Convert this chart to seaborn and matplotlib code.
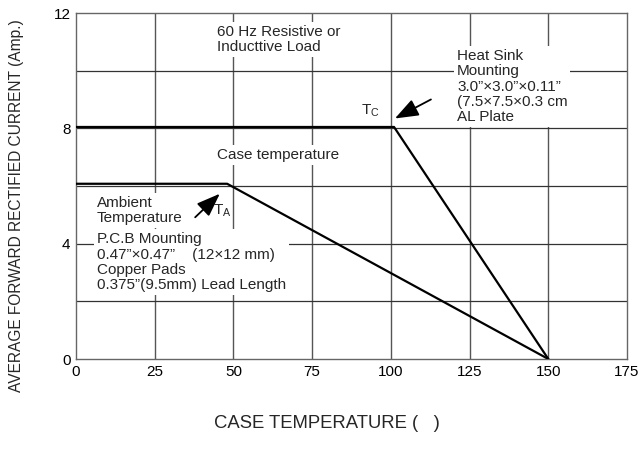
import numpy as np
import pandas as pd
import matplotlib
matplotlib.use("Agg")
import matplotlib.pyplot as plt
import seaborn as sns

# derating curves
case_temp = [0, 101, 150]
case_current = [8.05, 8.05, 0]
ambient_temp = [0, 48, 150]
ambient_current = [6.08, 6.08, 0]

x_ticks = [0, 25, 50, 75, 100, 125, 150, 175]
y_ticks = [0, 4, 8, 12]
y_grid = [0, 2, 4, 6, 8, 10, 12]

sns.set_theme(style="white")
plt.rcParams['font.family'] = ['Liberation Sans', 'DejaVu Sans']

fig = plt.figure(figsize=(6.41, 4.53), dpi=100)
ax = fig.add_axes([0.1186, 0.2075, 0.8596, 0.7635])

df_case = pd.DataFrame({"temp": case_temp, "current": case_current})
df_amb = pd.DataFrame({"temp": ambient_temp, "current": ambient_current})
sns.lineplot(data=df_case, x="temp", y="current", color="black", lw=1.6, ax=ax, zorder=3)
sns.lineplot(data=df_amb, x="temp", y="current", color="black", lw=1.6, ax=ax, zorder=3)

ax.set_xlim(0, 175)
ax.set_ylim(0, 12)
ax.set_xticks(x_ticks)
ax.set_yticks(y_grid, minor=False)
ax.set_yticklabels([str(v) if v in y_ticks else "" for v in y_grid])
ax.tick_params(axis="both", length=0, labelsize=11, colors="black", pad=4)
for x in x_ticks[1:-1]:
    ax.axvline(x, color="#555555", lw=1.0, zorder=1)
for y in y_grid[1:-1]:
    ax.axhline(y, color="#333333", lw=0.9, zorder=1)
for s in ax.spines.values():
    s.set_color("#666666")
    s.set_linewidth(1.0)
ax.set_xlabel("")
ax.set_ylabel("")

# axis titles sit off-centre in the reference
fig.text(0.510, 0.066, "CASE TEMPERATURE (   )", fontsize=13.3, ha="center", va="center")
fig.text(0.025, 0.547, "AVERAGE FORWARD RECTIFIED CURRENT (Amp.)", fontsize=11.2,
         ha="center", va="center", rotation=90)

box = dict(facecolor="white", edgecolor="none", pad=2)
fs = 11
ls = 1.12
ax.text(44.8, 11.6, "60 Hz Resistive or\nInducttive Load", fontsize=fs, va="top",
        ha="left", bbox=box, zorder=4, linespacing=ls)
ax.text(44.8, 7.07, "Case temperature", fontsize=fs, va="center", ha="left",
        bbox=box, zorder=4)
ax.text(121, 10.75, "Heat Sink\nMounting\n3.0\u201d\u00d73.0\u201d\u00d70.11\u201d\n(7.5\u00d77.5\u00d70.3 cm\nAL Plate",
        fontsize=fs, va="top", ha="left", bbox=box, zorder=4, linespacing=ls)
ax.text(90.5, 8.62, "T$_\\mathregular{C}$", fontsize=fs, va="center", ha="left",
        bbox=box, zorder=4)
ax.annotate("", xy=(100.5, 8.3), xytext=(113.5, 9.05),
            arrowprops=dict(arrowstyle="-|>,head_width=0.45,head_length=1.2",
                            color="black", lw=1.3), zorder=5)
ax.text(6.7, 5.65, "Ambient\nTemperature", fontsize=fs, va="top", ha="left",
        bbox=box, zorder=4, linespacing=ls)
ax.text(43.5, 5.15, "T$_\\mathregular{A}$", fontsize=fs, va="center", ha="left",
        zorder=4)
ax.annotate("", xy=(46.3, 5.8), xytext=(37.2, 4.85),
            arrowprops=dict(arrowstyle="-|>,head_width=0.45,head_length=1.2",
                            color="black", lw=1.3), zorder=5)
ax.text(6.7, 4.4, "P.C.B Mounting\n0.47\u201d\u00d70.47\u201d    (12\u00d712 mm)\nCopper Pads\n0.375\u201d(9.5mm) Lead Length",
        fontsize=fs, va="top", ha="left", bbox=box, zorder=4, linespacing=ls)

fig.savefig("out.png", dpi=100)
